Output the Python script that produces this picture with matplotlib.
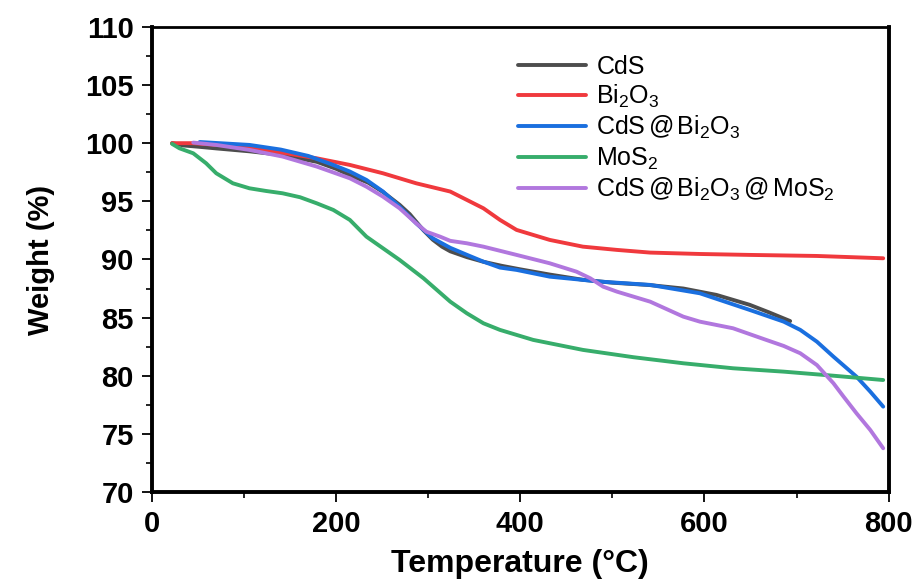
import matplotlib
matplotlib.use("Agg")
import matplotlib.pyplot as plt
from matplotlib.ticker import MultipleLocator

plt.rcParams["font.family"] = ["Liberation Sans", "DejaVu Sans"]
plt.rcParams["mathtext.fontset"] = "custom"
plt.rcParams["mathtext.rm"] = "Liberation Sans"
plt.rcParams["mathtext.it"] = "Liberation Sans"

# TGA curves: temperature (°C) vs residual weight (%)
cds_t = [22, 35, 50, 70, 106, 140, 179, 200, 215, 235, 251, 269, 280, 295,
         305, 315, 324, 342, 360, 380, 400, 432, 468, 500, 540, 577, 613,
         649, 670, 693]
cds_w = [100.0, 99.8, 99.7, 99.55, 99.3, 99.0, 98.4, 97.8, 97.25, 96.6,
         95.8, 94.7, 93.9, 92.5, 91.7, 91.1, 90.7, 90.2, 89.8, 89.45, 89.15,
         88.7, 88.25, 88.0, 87.8, 87.5, 86.95, 86.1, 85.45, 84.7]

bi2o3_t = [22, 45, 106, 179, 215, 251, 287, 324, 342, 360, 378, 396, 432,
           468, 505, 541, 595, 649, 722, 794]
bi2o3_w = [100.0, 100.0, 99.65, 98.7, 98.13, 97.41, 96.55, 95.84, 95.12,
           94.4, 93.4, 92.54, 91.68, 91.1, 90.82, 90.59, 90.47, 90.39, 90.3,
           90.1]

cdsbi_t = [52, 106, 140, 170, 197, 215, 233, 251, 269, 287, 305, 324, 342,
           360, 378, 396, 432, 486, 541, 595, 649, 686, 704, 722, 740, 765,
           780, 794]
cdsbi_w = [100.1, 99.85, 99.45, 98.9, 98.13, 97.56, 96.84, 95.84, 94.54,
           93.11, 91.82, 91.0, 90.4, 89.81, 89.3, 89.1, 88.52, 88.1, 87.81,
           87.09, 85.66, 84.65, 83.94, 82.93, 81.64, 79.92, 78.63, 77.34]

mos2_t = [22, 30, 45, 59, 70, 88, 106, 124, 142, 161, 179, 197, 215, 233,
          251, 269, 295, 324, 342, 360, 378, 414, 468, 523, 577, 631, 686,
          740, 794]
mos2_w = [99.94, 99.56, 99.13, 98.27, 97.41, 96.55, 96.12, 95.89, 95.69,
          95.35, 94.83, 94.26, 93.4, 91.96, 90.96, 89.96, 88.38, 86.37,
          85.37, 84.51, 83.94, 83.08, 82.22, 81.59, 81.07, 80.64, 80.35,
          80.0, 79.63]

tern_t = [45, 70, 106, 142, 179, 215, 233, 251, 269, 287, 298, 313, 324,
          342, 360, 396, 432, 461, 476, 490, 505, 541, 577, 595, 631, 667,
          686, 704, 722, 740, 751, 765, 780, 794]
tern_w = [100.05, 99.85, 99.42, 98.85, 97.99, 96.98, 96.26, 95.4, 94.4,
          93.11, 92.39, 91.96, 91.6, 91.39, 91.1, 90.39, 89.67, 88.95, 88.38,
          87.66, 87.23, 86.37, 85.08, 84.65, 84.08, 83.08, 82.56, 81.93,
          80.92, 79.35, 78.2, 76.77, 75.33, 73.76]

series = [
    (cds_t, cds_w, "CdS", "#4d4d4d"),
    (bi2o3_t, bi2o3_w, r"Bi$_2$O$_3$", "#f0393d"),
    (cdsbi_t, cdsbi_w, r"CdS$\,$@$\,$Bi$_2$O$_3$", "#1a6fdf"),
    (mos2_t, mos2_w, r"MoS$_2$", "#37ad6b"),
    (tern_t, tern_w, r"CdS$\,$@$\,$Bi$_2$O$_3$$\,$@$\,$MoS$_2$", "#b177de"),
]

fig = plt.figure(figsize=(9.2, 5.85), dpi=100)
ax = fig.add_axes([0.165, 0.159, 0.801, 0.795])

for t, w, lab, col in series:
    ax.plot(t, w, color=col, lw=2.8, label=lab, solid_joinstyle="round",
            solid_capstyle="round")

ax.set_xlim(0, 800)
ax.set_ylim(70, 110)
ax.xaxis.set_major_locator(MultipleLocator(200))
ax.xaxis.set_minor_locator(MultipleLocator(100))
ax.yaxis.set_major_locator(MultipleLocator(5))
ax.yaxis.set_minor_locator(MultipleLocator(2.5))

ax.tick_params(which="major", direction="out", length=7, width=1.3,
               labelsize=21, pad=6)
ax.tick_params(which="minor", direction="out", length=4, width=1.2)
ax.tick_params(top=False, right=False, which="both")
for lbl in ax.get_xticklabels() + ax.get_yticklabels():
    lbl.set_fontweight("bold")

for side in ["left", "bottom", "right"]:
    ax.spines[side].set_linewidth(2.8)
ax.spines["top"].set_linewidth(2.0)

ax.set_xlabel("Temperature (°C)", fontsize=23, fontweight="bold", labelpad=8)
ax.set_ylabel("Weight (%)", fontsize=21, fontweight="bold", labelpad=22)

ax.legend(loc="upper left", bbox_to_anchor=(0.476, 0.972), frameon=False,
          fontsize=18, handlelength=2.75, handletextpad=0.4,
          labelspacing=0.16, borderaxespad=0.2)

fig.savefig("out.png", dpi=100)
